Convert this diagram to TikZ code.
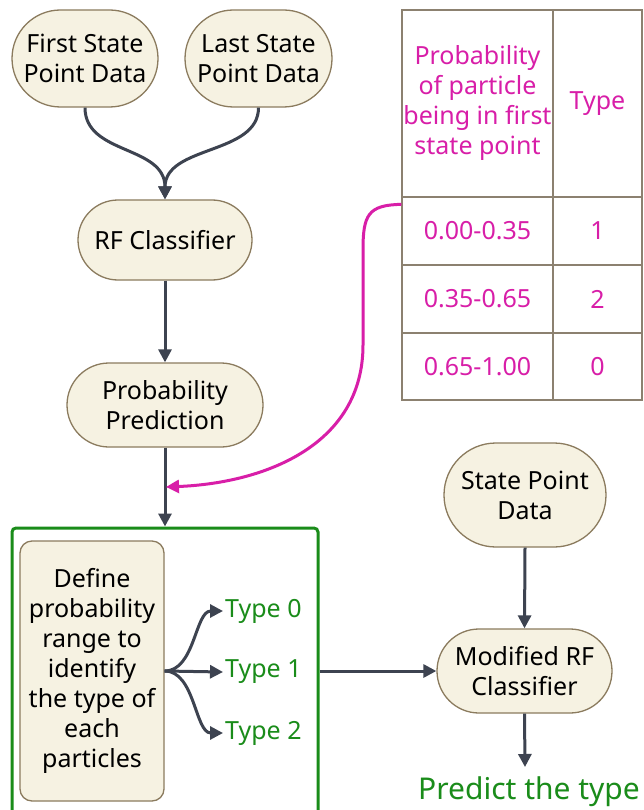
\documentclass[tikz,border=0pt]{standalone}
\usepackage{fontspec}
\setmainfont{Noto Sans}
\usetikzlibrary{shapes.misc,arrows.meta,calc}
\definecolor{nodef}{HTML}{F6F2E2}
\definecolor{nodeb}{HTML}{8B7B5E}
\definecolor{arr}{HTML}{3D4350}
\definecolor{mag}{HTML}{D81EA8}
\definecolor{grn}{HTML}{1A8C1A}
\definecolor{tblb}{HTML}{8C8170}
\begin{document}
\begin{tikzpicture}[x=1pt,y=-1pt,
  txt/.style={font=\fontsize{25}{30}\selectfont},
  term/.style={rounded rectangle, draw=nodeb, fill=nodef, line width=1.3pt, align=center, inner sep=0pt, text=black, txt},
  conn/.style={draw=arr, line width=3pt, -{Triangle[length=13pt,width=13pt]}},
  cell/.style={draw=tblb, line width=1.3pt, inner sep=0pt, align=center, text=mag, txt},
  typ/.style={anchor=west, text=grn, inner sep=2pt, txt}
  ]
\useasboundingbox[fill=white] (0,0) rectangle (644,810);
% terminals
\node[term, minimum width=146pt, minimum height=97pt] (first) at (85,58.5) {First State\\Point Data};
\node[term, minimum width=147pt, minimum height=97pt] (last) at (258.5,58.5) {Last State\\Point Data};
\node[term, minimum width=174pt, minimum height=80pt] (rf) at (165,240) {RF Classifier};
\node[term, minimum width=196pt, minimum height=84pt] (prob) at (165,405) {Probability\\Prediction};
\node[term, minimum width=162pt, minimum height=104pt] (spd) at (525,495) {State Point\\Data};
\node[term, minimum width=175pt, minimum height=84pt] (mrf) at (524.5,671) {Modified RF\\Classifier};
% group box
\node[draw=grn, line width=3pt, rounded corners=4pt, minimum width=306pt, minimum height=320pt, inner sep=0pt] (grp) at (165,688) {};
\node[draw=nodeb, fill=nodef, line width=1.3pt, rounded corners=12pt, minimum width=144pt, minimum height=260pt, align=center, inner sep=0pt, txt] (def) at (92,671) {Define\\probability\\range to\\identify\\the type of\\each\\particles};
\node[typ] (t0) at (223,611) {Type 0};
\node[typ] (t1) at (223,672) {Type 1};
\node[typ] (t2) at (223,733) {Type 2};
% table
\node[cell, minimum width=151pt, minimum height=187pt] (h1) at (477.5,103.5) {Probability\\of particle\\being in first\\state point};
\node[cell, minimum width=89pt, minimum height=187pt] (h2) at (597.5,103.5) {Type};
\node[cell, minimum width=151pt, minimum height=68pt] (r1a) at (477.5,231) {0.00-0.35};
\node[cell, minimum width=89pt, minimum height=68pt] (r1b) at (597.5,231) {1};
\node[cell, minimum width=151pt, minimum height=68pt] (r2a) at (477.5,299) {0.35-0.65};
\node[cell, minimum width=89pt, minimum height=68pt] (r2b) at (597.5,299) {2};
\node[cell, minimum width=151pt, minimum height=67pt] (r3a) at (477.5,366.5) {0.65-1.00};
\node[cell, minimum width=89pt, minimum height=67pt] (r3b) at (597.5,366.5) {0};
% result
\node[text=grn, font=\fontsize{30}{30}\selectfont, inner sep=0pt, anchor=north] (pred) at (529,776) {Predict the type};
% connectors
\draw[conn] (first.south) .. controls (85,155) and (165,145) .. (rf.north);
\draw[conn] (last.south) .. controls (258.5,155) and (165,145) .. (rf.north);
\draw[conn] (rf.south) -- (prob.north);
\draw[conn] (prob.south) -- (grp.north);
\draw[conn] (spd.south) -- (mrf.north);
\draw[conn] (grp.east |- mrf.west) -- (mrf.west);
\draw[conn] (mrf.south) -- ($(pred.north)+(-4,-9)$);
\draw[conn] (def.east) .. controls (195,671) and (195,611) .. (t0.west);
\draw[conn] (def.east) -- (t1.west);
\draw[conn] (def.east) .. controls (195,671) and (195,733) .. (t2.west);
\coordinate (mtip) at (166,487);
\draw[draw=mag, line width=3pt, -{Triangle[length=13pt,width=13pt]}] ($(r1a.north west)+(0,8)$) .. controls (368,205) and (363,215) .. (363,250) -- (363,345) .. controls (363,445) and (265,483) .. (mtip);
\end{tikzpicture}
\end{document}
